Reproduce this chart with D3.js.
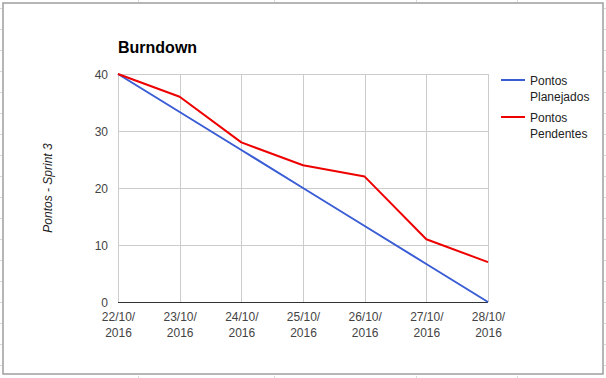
<!DOCTYPE html>
<html><head><meta charset="utf-8">
<script src="https://cdn.jsdelivr.net/npm/d3@7"></script>
<style>html,body{margin:0;padding:0;background:#fff;}svg{display:block;}</style>
</head><body>
<svg id="c" width="606" height="378"></svg>
<script>
const categories = ["22/10/2016","23/10/2016","24/10/2016","25/10/2016","26/10/2016","27/10/2016","28/10/2016"];
const planejados = [40, 33.33, 26.67, 20, 13.33, 6.67, 0];
const pendentes = [40, 36, 28, 24, 22, 11, 7];
const yTicks = [0, 10, 20, 30, 40];
const seriesNames = ["Pontos Planejados", "Pontos Pendentes"];
const colors = ["#3a5dd6", "#ee0000"];

const svg = d3.select("#c");
const font = "Arial, 'Liberation Sans', sans-serif";

// spreadsheet background lines
const bg = svg.append("g").attr("stroke", "#d9d9d9").attr("stroke-width", 1);
[138, 274, 416, 517].forEach(x => {
  bg.append("line").attr("x1", x + .5).attr("x2", x + .5).attr("y1", 0).attr("y2", 2);
  bg.append("line").attr("x1", x + .5).attr("x2", x + .5).attr("y1", 376).attr("y2", 378);
});
for (let y = 8; y < 378; y += 21) {
  bg.append("line").attr("x1", 0).attr("x2", 2).attr("y1", y + .5).attr("y2", y + .5);
  bg.append("line").attr("x1", 604).attr("x2", 606).attr("y1", y + .5).attr("y2", y + .5);
}
// chart frame
svg.append("rect").attr("x", 3).attr("y", 3).attr("width", 600).attr("height", 371)
  .attr("fill", "#fff").attr("stroke", "#9e9e9e").attr("stroke-width", 1.5);

const x = d3.scalePoint().domain(categories).range([118, 488]);
const y = d3.scaleLinear().domain([0, 40]).range([302, 74]);

// gridlines
const grid = svg.append("g").attr("stroke", "#cccccc").attr("stroke-width", 1);
yTicks.forEach(t => {
  if (t === 0) return;
  grid.append("line").attr("x1", 118).attr("x2", 488)
    .attr("y1", Math.round(y(t)) + .5).attr("y2", Math.round(y(t)) + .5);
});
categories.forEach(c => {
  grid.append("line").attr("x1", Math.round(x(c)) + .5).attr("x2", Math.round(x(c)) + .5)
    .attr("y1", 74).attr("y2", 302);
});

// y axis labels
const yAxis = d3.axisLeft(y).tickValues(yTicks).tickSize(0).tickPadding(0);
const ya = svg.append("g").attr("transform", "translate(108,0)").call(yAxis);
ya.select(".domain").remove();
ya.selectAll("text").attr("font-family", font).attr("font-size", 12).attr("fill", "#444")
  .attr("dy", "0.36em");

// x axis labels (two lines)
const xAxis = d3.axisBottom(x).tickSize(0).tickFormat(() => "");
const xa = svg.append("g").attr("transform", "translate(0,302)").call(xAxis);
xa.select(".domain").remove();
xa.selectAll(".tick").each(function(d) {
  const parts = d.split("/");
  const t = d3.select(this).append("text").attr("font-family", font).attr("font-size", 12)
    .attr("fill", "#444").attr("text-anchor", "middle");
  t.append("tspan").attr("x", 0).attr("y", 19).text(parts[0] + "/" + parts[1] + "/");
  t.append("tspan").attr("x", 0).attr("y", 35).text(parts[2]);
});

// baseline
svg.append("line").attr("x1", 118).attr("x2", 488).attr("y1", 302.5).attr("y2", 302.5)
  .attr("stroke", "#333").attr("stroke-width", 1);

// lines
const line = d3.line().x((d, i) => x(categories[i])).y(d => y(d));
[planejados, pendentes].forEach((s, i) => {
  svg.append("path").datum(s).attr("d", line).attr("fill", "none")
    .attr("stroke", colors[i]).attr("stroke-width", 2).attr("stroke-linejoin", "round");
});

// title
svg.append("text").attr("x", 118).attr("y", 53).attr("font-family", font)
  .attr("font-size", 16).attr("font-weight", "bold").attr("fill", "#000").text("Burndown");

// y axis title
svg.append("text").attr("transform", "translate(52,188) rotate(-90)")
  .attr("text-anchor", "middle").attr("font-family", font).attr("font-size", 12)
  .attr("font-style", "italic").attr("fill", "#222").text("Pontos - Sprint 3");

// legend
seriesNames.forEach((n, i) => {
  const gy = 80 + i * 37;
  svg.append("line").attr("x1", 501).attr("x2", 525).attr("y1", gy).attr("y2", gy)
    .attr("stroke", colors[i]).attr("stroke-width", 2);
  const words = n.split(" ");
  const t = svg.append("text").attr("font-family", font).attr("font-size", 12).attr("fill", "#222");
  t.append("tspan").attr("x", 530).attr("y", gy + 5).text(words[0]);
  t.append("tspan").attr("x", 530).attr("y", gy + 21).text(words[1]);
});
</script>
</body></html>
